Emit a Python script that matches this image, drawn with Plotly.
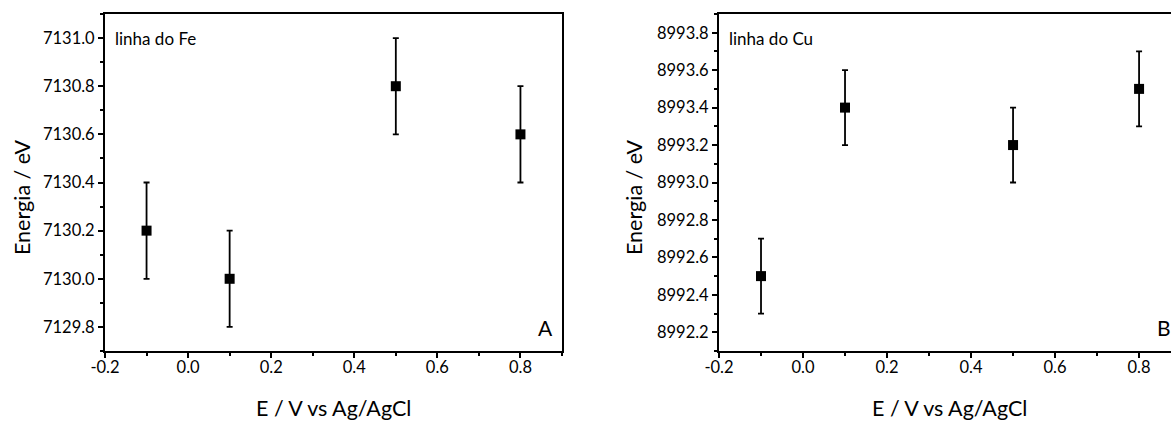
import plotly.graph_objects as go

# Data
potential = [-0.1, 0.1, 0.5, 0.8]
fe_energy = [7130.2, 7130.0, 7130.8, 7130.6]
fe_err = [0.2, 0.2, 0.2, 0.2]
cu_energy = [8992.5, 8993.4, 8993.2, 8993.5]
cu_err = [0.2, 0.2, 0.2, 0.2]

fe_ticks = [7129.8, 7130.0, 7130.2, 7130.4, 7130.6, 7130.8, 7131.0]
cu_ticks = [8992.2, 8992.4, 8992.6, 8992.8, 8993.0, 8993.2, 8993.4, 8993.6, 8993.8]
x_ticks = [-0.2, 0.0, 0.2, 0.4, 0.6, 0.8]

FONT = "Lato"
W, H = 1171, 423

fig = go.Figure()
marker = dict(symbol="square", size=10, color="black")
fig.add_trace(go.Scatter(x=potential, y=fe_energy, mode="markers", marker=marker,
                         error_y=dict(type="data", array=fe_err, color="black", thickness=1.8, width=3),
                         xaxis="x", yaxis="y", showlegend=False))
fig.add_trace(go.Scatter(x=potential, y=cu_energy, mode="markers", marker=marker,
                         error_y=dict(type="data", array=cu_err, color="black", thickness=1.8, width=3),
                         xaxis="x2", yaxis="y2", showlegend=False))

top, bottom = 14, 351
ydom = [1 - (bottom / H), 1 - (top / H)]
common = dict(showgrid=False, zeroline=False, showline=True, linecolor="black", linewidth=2,
              ticks="outside", ticklen=5, tickwidth=2, tickcolor="black", automargin=False,
              tickfont=dict(family=FONT, size=16.5, color="black"))
minor_x = dict(ticks="outside", ticklen=3, tickwidth=1.5, tickcolor="black", dtick=0.1)
minor_y = dict(ticks="outside", ticklen=3, tickwidth=1.5, tickcolor="black", dtick=0.1)

fig.update_layout(
    width=W, height=H,
    margin=dict(l=0, r=0, t=0, b=0, autoexpand=False),
    paper_bgcolor="white", plot_bgcolor="white",
    font=dict(family=FONT, color="black"),
    xaxis=dict(domain=[105 / W, 562 / W], range=[-0.2, 0.9], tickvals=x_ticks,
               ticktext=[f"{v:.1f}" for v in x_ticks], mirror=True, anchor="y",
               ticklabelstandoff=-5, minor=minor_x, **common),
    yaxis=dict(domain=ydom, range=[7129.7, 7131.1], tickvals=fe_ticks,
               ticktext=[f"{v:.1f}" for v in fe_ticks], mirror=True, anchor="x",
               minor=minor_y, **common),
    xaxis2=dict(domain=[719 / W, 1.0], range=[-0.2, 0.876], tickvals=x_ticks,
                ticktext=[f"{v:.1f}" for v in x_ticks], mirror=True, anchor="y2",
                ticklabelstandoff=-5, minor=minor_x, **common),
    yaxis2=dict(domain=ydom, range=[8992.1, 8993.9], tickvals=cu_ticks,
                ticktext=[f"{v:.1f}" for v in cu_ticks], mirror=False, anchor="x2",
                minor=minor_y, **common),
)

def ann(text, x, y, size, xanchor="center", yanchor="middle", angle=0):
    fig.add_annotation(text=text, x=x / W, y=1 - y / H, xref="paper", yref="paper",
                       showarrow=False, xanchor=xanchor, yanchor=yanchor, textangle=angle,
                       font=dict(family=FONT, size=size, color="black"))

ann("linha do Fe", 113, 38, 17, xanchor="left")
ann("linha do Cu", 727, 38, 17, xanchor="left")
ann("A", 545, 327, 21)
ann("B", 1164, 327, 21)
ann("E / V vs Ag/AgCl", 333, 423, 21.5, yanchor="bottom")
ann("E / V vs Ag/AgCl", 949, 423, 21.5, yanchor="bottom")
ann("Energia / eV", 22, 197, 21.5, angle=-90)
ann("Energia / eV", 634, 197, 21.5, angle=-90)

fig.write_html("out.html")
